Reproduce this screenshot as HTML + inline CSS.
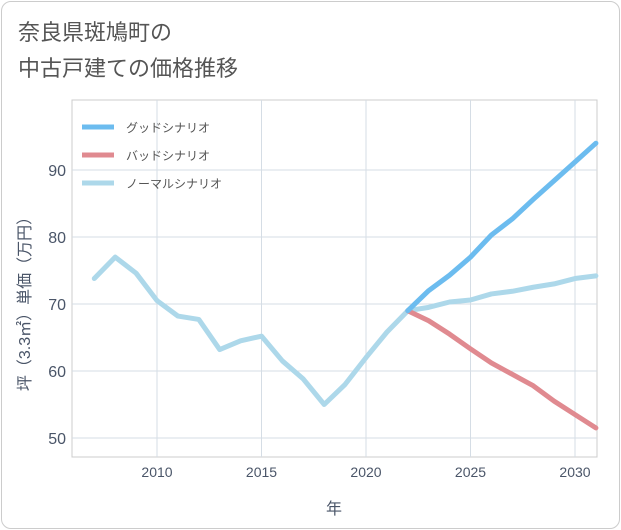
<!DOCTYPE html>
<html><head><meta charset="utf-8"><style>
body{margin:0;background:#fff;font-family:"Liberation Sans","Noto Sans CJK JP",sans-serif;}
#card{position:absolute;left:1px;top:1px;width:617px;height:526px;border:1px solid #ccc;border-radius:10px;background:#fff;}
</style></head><body>
<div id="card"></div>
<svg width="621" height="530" style="position:absolute;left:0;top:0">
<text x="18" y="40" font-size="22" fill="#555" font-family="Liberation Sans, Noto Sans CJK JP, sans-serif">奈良県斑鳩町の</text>
<text x="18" y="76" font-size="22" fill="#555" font-family="Liberation Sans, Noto Sans CJK JP, sans-serif">中古戸建ての価格推移</text>
<g id="plot"></g>
</svg>
<script>
const yearsHist=[2007,2008,2009,2010,2011,2012,2013,2014,2015,2016,2017,2018,2019,2020,2021,2022];
const normalHist=[73.8,77,74.6,70.5,68.2,67.7,63.2,64.5,65.2,61.5,58.8,55,58,62,65.8,69];
const yearsFut=[2022,2023,2024,2025,2026,2027,2028,2029,2030,2031];
const goodVals=[69,72,74.3,77,80.3,82.7,85.6,88.4,91.2,94];
const badVals=[69,67.5,65.5,63.3,61.2,59.5,57.8,55.5,53.5,51.5];
const normalFut=[69,69.5,70.3,70.6,71.5,71.9,72.5,73,73.8,74.2];
const xTicks=[2010,2015,2020,2025,2030];
const yTicks=[50,60,70,80,90];
const L=72,R=597,T=100,B=457;
const x=v=>157+(v-2010)*20.9;
const y=v=>170+(90-v)*6.7;
const g=document.getElementById('plot');const NS='http://www.w3.org/2000/svg';
const TC='#4a5568';
function el(t,a){const e=document.createElementNS(NS,t);for(const k in a)e.setAttribute(k,a[k]);g.appendChild(e);return e;}
let r=el('rect',{x:L,y:T,width:R-L,height:B-T,fill:'none',stroke:'#ccc'});


xTicks.forEach(t=>{let l=el('line',{x1:x(t),x2:x(t),y1:T,y2:B,stroke:'#d5dde5'});


let tx=el('text',{x:x(t),y:477,'font-size':14,fill:TC,'text-anchor':'middle'});tx.textContent=t;

});
yTicks.forEach(t=>{let l=el('line',{x1:L,x2:R,y1:y(t),y2:y(t),stroke:'#d5dde5'});


let tx=el('text',{x:66,y:y(t)+6,'font-size':16,fill:TC,'text-anchor':'end'});tx.textContent=t;

});
let xt=el('text',{x:334,y:514,'font-size':16,fill:TC,'text-anchor':'middle'});xt.textContent='年';


let yt=el('text',{x:0,y:0,'font-size':16,fill:TC,'text-anchor':'middle',transform:'translate(30,300) rotate(-90)'});yt.textContent='坪（3.3㎡）単価（万円）';


function line(xs,vs,c,name){let p=el('polyline',{points:xs.map((v,i)=>x(v)+','+y(vs[i])).join(' '),fill:'none',stroke:c,'stroke-width':5,'stroke-linejoin':'round','stroke-linecap':'round'});

}
line(yearsHist,normalHist,'#add8ea','normal-history-line');
line(yearsFut,normalFut,'#add8ea','normal-scenario-line');
line(yearsFut,badVals,'#e08a90','bad-scenario-line');
line(yearsFut,goodVals,'#6cbcef','good-scenario-line');
[['グッドシナリオ','#6cbcef'],['バッドシナリオ','#e08a90'],['ノーマルシナリオ','#add8ea']].forEach((d,i)=>{
let yy=127+i*28;
let l=el('line',{x1:82,x2:114,y1:yy,y2:yy,stroke:d[1],'stroke-width':5});


let t=el('text',{x:126,y:yy+5,'font-size':12,fill:'#555'});t.textContent=d[0];

});
</script>
</body></html>
